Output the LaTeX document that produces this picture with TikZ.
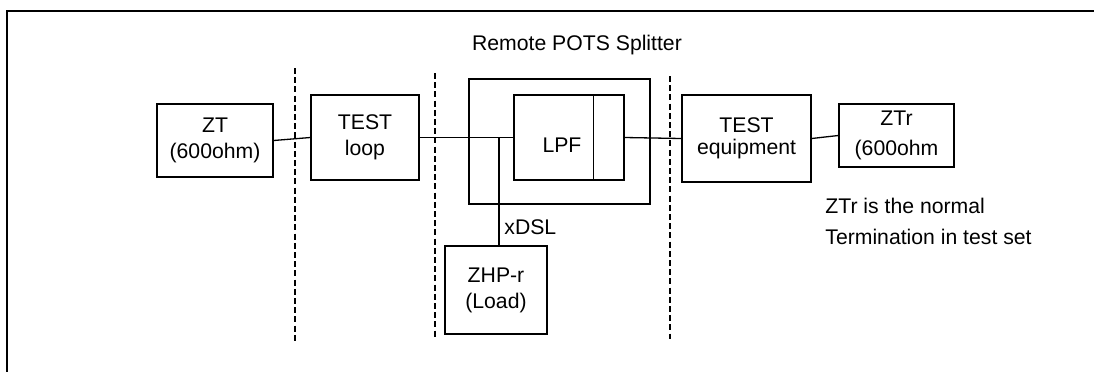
\documentclass[tikz,border=0pt]{standalone}
\usepackage{fontspec}
\setmainfont{Liberation Sans}
\usetikzlibrary{positioning}

\tikzset{
  unitbox/.style={draw, line width=0.65pt, inner sep=0pt, align=center,
    font=\fontsize{10.6}{13}\selectfont},
  plaintext/.style={inner sep=0pt, font=\fontsize{10.6}{13}\selectfont},
  wire/.style={line width=0.65pt},
  cutline/.style={dash pattern=on 3pt off 1.6pt, line width=0.6pt}
}

\begin{document}
\begin{tikzpicture}[x=0.5pt, y=-0.5pt]
\useasboundingbox (0,0) rectangle (1094,371);
\clip (0,0) rectangle (1094,371);

% Frame
\draw[line width=1.3pt] (7,380) -- (7,11) -- (1100,11);

% Boxes
\node[unitbox, minimum width=58pt, minimum height=36.5pt] (zt) at (215,140.5) {ZT\\(600ohm)};
\node[unitbox, minimum width=54pt, minimum height=42.5pt] (loop) at (365,137.5) {TEST\\loop};
\node[unitbox, minimum width=90.5pt, minimum height=62.5pt] (splitter) at (559.5,141.5) {};
\node[unitbox, minimum width=55pt, minimum height=42.5pt] (lpf) at (569,137.5) {};
\node[unitbox, minimum width=64.5pt, minimum height=43.5pt] (testeq) at (746.5,138.5) {TEST\\[-2pt]equipment};
\node[unitbox, minimum width=57.5pt, minimum height=31.5pt] (ztr) at (896.5,135.5) {ZTr\\[2pt](600ohm};
\node[unitbox, minimum width=51pt, minimum height=44pt] (zhp) at (496,290) {ZHP-r\\(Load)};

% LPF section line
\draw[wire] ([xshift=-15.5pt]lpf.north east) -- ([xshift=-15.5pt]lpf.south east);

% Labels
\node[plaintext] (title) at (577,45) {Remote POTS Splitter};
\node[plaintext] (lpflabel) at (562,145) {LPF};
\node[plaintext, anchor=west] (xdsl) at (504,227) {xDSL};
\node[plaintext, anchor=north west, align=left, font=\fontsize{10.6}{15.5}\selectfont]
  (remark) at (825,197.5) {ZTr is the normal\\Termination in test set};

% Wiring
\draw[wire] (zt.east) -- (loop.west);
\draw[wire] (loop.east) -- (lpf.west);
\coordinate (tap) at (499,137.5);
\draw[wire] (tap) -- (tap |- zhp.north);
\draw[wire] (lpf.east) -- (testeq.west);
\draw[wire] (testeq.east) -- (ztr.west);

% Reference planes
\draw[cutline] (295,68) -- (295,342);
\draw[cutline] (435,73) -- (435,338);
\draw[cutline] (670,76) -- (670,339);
\end{tikzpicture}
\end{document}
